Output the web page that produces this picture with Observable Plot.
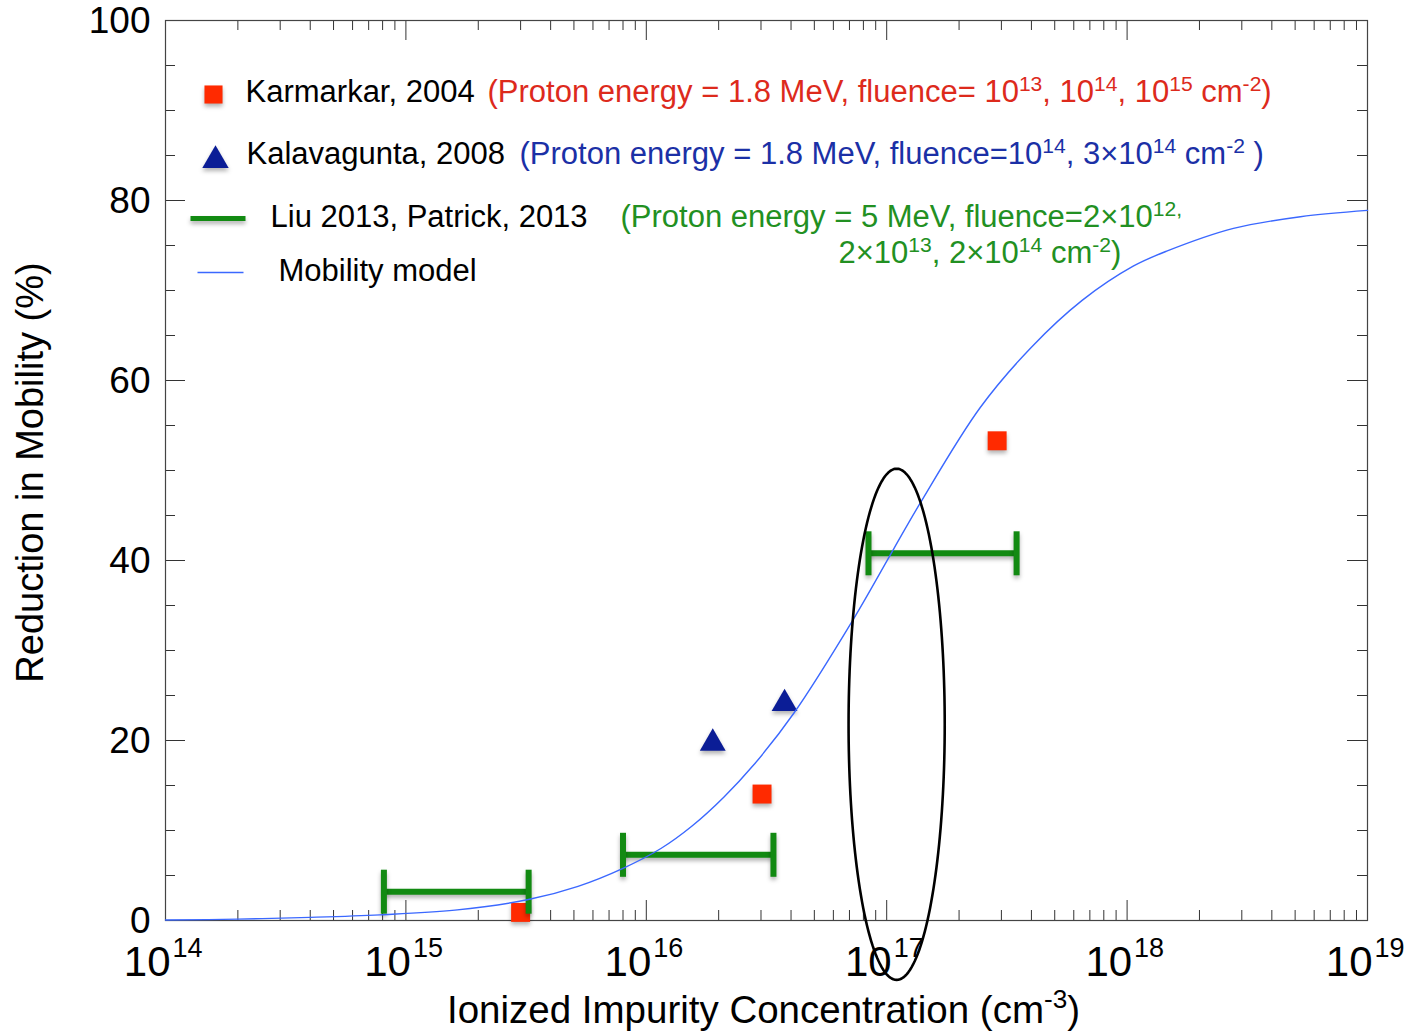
<!DOCTYPE html>
<html><head><meta charset="utf-8">
<script src="https://cdn.jsdelivr.net/npm/d3@7"></script>
<script src="https://cdn.jsdelivr.net/npm/@observablehq/plot@0.6"></script>
<style>
body{margin:0;background:#fff;}
g[aria-description="shadow"] > * {filter: drop-shadow(0px 3px 2px rgba(0,0,0,0.3));}
</style></head><body><div id="chart"></div><script>
// ---- Data ----
// Mobility model curve (concentration cm^-3, reduction %)
const modelConc = [1e14, 2e14, 4e14, 7.8e14, 1.6e15, 3.2e15, 5.2e15, 8e15, 1.15e16, 1.55e16, 2.1e16, 2.8e16, 4.1e16, 7.2e16, 1.07e17, 1.38e17, 2.45e17, 4e17, 6.5e17, 1.06e18, 1.47e18, 2.77e18, 5.26e18, 1e19];
const modelRed  = [0.05, 0.15, 0.35, 0.63, 1.15, 2.3, 3.8, 5.8, 8.0, 10.5, 13.7, 17.3, 23.0, 33.3, 41.3, 46.4, 57.0, 63.7, 68.9, 72.7, 74.4, 76.9, 78.2, 78.9];
// Karmarkar, 2004
const karmConc = [3.0e15, 3.03e16, 2.88e17];
const karmRed  = [0.9, 14.05, 53.3];
// Kalavagunta, 2008
const kalaConc = [1.89e16, 3.76e16];
const kalaRed  = [19.7, 24.1];
// Liu 2013, Patrick 2013 (concentration ranges)
const liuLow  = [8.1e14, 8.0e15, 8.4e16];
const liuHigh = [3.24e15, 3.38e16, 3.47e17];
const liuRed  = [3.2, 7.3, 40.8];
// Highlight ellipse (centre concentration, centre %, half-width in decades, half-height in %)
const ellipseSpec = {conc: 1.1e17, red: 21.8, halfDecades: 0.2, halfRed: 28.4};
// Ticks
const xTickExp = [14, 15, 16, 17, 18, 19];
const xMinorMult = [2, 3, 4, 5, 6, 7, 8, 9];
const yTickLabels = [0, 20, 40, 60, 80, 100];
const yMinorStep = 5;

// ---- Build tables ----
const model = modelConc.map((c, i) => ({c, r: modelRed[i]}));
const karm = karmConc.map((c, i) => ({c, r: karmRed[i]}));
const kala = kalaConc.map((c, i) => ({c, r: kalaRed[i]}));
const liu = liuLow.map((lo, i) => ({lo, hi: liuHigh[i], r: liuRed[i]}));
const xMajor = xTickExp.map(e => Math.pow(10, e));
const xMinor = xTickExp.slice(0, -1).flatMap(e => xMinorMult.map(m => m * Math.pow(10, e)));
const yAll = d3.range(0, 100 + yMinorStep, yMinorStep);
const yMinor = yAll.filter(v => !yTickLabels.includes(v));
const ellipse = d3.range(0, 361, 2).map(t => {
  const a = t * Math.PI / 180;
  return {c: ellipseSpec.conc * Math.pow(10, ellipseSpec.halfDecades * Math.cos(a)), r: ellipseSpec.red + ellipseSpec.halfRed * Math.sin(a)};
});

const vline = {draw(ctx, size) { const h = Math.sqrt(size / Math.PI); ctx.moveTo(0, -h); ctx.lineTo(0, h); }};
const hline = {draw(ctx, size) { const h = Math.sqrt(size / Math.PI); ctx.moveTo(-h, 0); ctx.lineTo(h, 0); }};

const W = 1404, H = 1032, ML = 165, MR = 37, MT = 20, MB = 112;
const FW = W - ML - MR, FH = H - MT - MB;
const RED = "#ff2a00", RED_T = "#dd2a1c", NAVY = "#0b1d96", BLUE_T = "#1b30a6", GREEN = "#128a12", GREEN_T = "#229022", CURVE = "#3b68ff";
const tickCol = "#333";
const LF = 31;
const leg = (txt, dx, dy, fill, rich) => Plot.text([txt], {frameAnchor: "top-left", text: d => d, textAnchor: "start", lineAnchor: "middle", dx, dy, fontSize: LF, fill: fill || "#000", ariaDescription: rich ? "rich" : undefined});

const chart = Plot.plot({
  width: W, height: H,
  marginLeft: ML, marginRight: MR, marginTop: MT, marginBottom: MB,
  x: {type: "log", domain: [1e14, 1e19], axis: null},
  y: {domain: [0, 100], axis: null},
  style: {fontFamily: "'Liberation Sans', Arial, sans-serif", background: "#fff", overflow: "visible"},
  marks: [
    // ticks (inward on all four sides)
    Plot.tickX(xMajor, {x: d => d, insetTop: FH - 20, stroke: tickCol}),
    Plot.tickX(xMinor, {x: d => d, insetTop: FH - 10, stroke: tickCol}),
    Plot.tickX(xMajor, {x: d => d, insetBottom: FH - 20, stroke: tickCol}),
    Plot.tickX(xMinor, {x: d => d, insetBottom: FH - 10, stroke: tickCol}),
    Plot.tickY(yTickLabels, {y: d => d, insetRight: FW - 20, stroke: tickCol}),
    Plot.tickY(yMinor, {y: d => d, insetRight: FW - 10, stroke: tickCol}),
    Plot.tickY(yTickLabels, {y: d => d, insetLeft: FW - 20, stroke: tickCol}),
    Plot.tickY(yMinor, {y: d => d, insetLeft: FW - 10, stroke: tickCol}),
    Plot.frame({stroke: "#444", strokeWidth: 1.2}),
    // tick labels
    Plot.text(yTickLabels, {y: d => d, frameAnchor: "left", text: d => String(d), textAnchor: "end", lineAnchor: "middle", dx: -15, dy: 1, fontSize: 37}),
    Plot.text(xMajor, {x: d => d, frameAnchor: "bottom", text: () => "10", textAnchor: "end", lineAnchor: "middle", dx: 5, dy: 42, fontSize: 42}),
    Plot.text(xTickExp, {x: d => Math.pow(10, d), frameAnchor: "bottom", text: d => String(d), textAnchor: "start", lineAnchor: "middle", dx: 7, dy: 28, fontSize: 27}),
    // axis titles
    Plot.text(["Ionized Impurity Concentration (cm^{-3})"], {frameAnchor: "bottom", text: d => d, textAnchor: "middle", lineAnchor: "middle", dx: -3, dy: 90, fontSize: 38.5, ariaDescription: "rich"}),
    Plot.text(["Reduction in Mobility (%)"], {frameAnchor: "left", text: d => d, textAnchor: "middle", lineAnchor: "middle", rotate: -90, dx: -135, dy: 2, fontSize: 38}),
    // data
    Plot.dot(karm, {x: "c", y: "r", symbol: "square", r: 10.7, fill: RED, ariaDescription: "shadow"}),
    Plot.ruleY(liu, {x1: "lo", x2: "hi", y: "r", stroke: GREEN, strokeWidth: 6, ariaDescription: "shadow"}),
    Plot.dot(liu, {x: "lo", y: "r", symbol: vline, r: 22, stroke: GREEN, strokeWidth: 6, ariaDescription: "shadow"}),
    Plot.dot(liu, {x: "hi", y: "r", symbol: vline, r: 22, stroke: GREEN, strokeWidth: 6, ariaDescription: "shadow"}),
    Plot.dot(kala, {x: "c", y: "r", symbol: "triangle", r: 9.6, fill: NAVY, ariaDescription: "shadow"}),
    Plot.line(model, {x: "c", y: "r", stroke: CURVE, strokeWidth: 1.4, curve: "catmull-rom"}),
    Plot.line(ellipse, {x: "c", y: "r", stroke: "#000", strokeWidth: 2.6, curve: "linear"}),
    // legend
    Plot.dot([0], {frameAnchor: "top-left", dx: 48, dy: 74, symbol: "square", r: 10.2, fill: RED, ariaDescription: "shadow"}),
    Plot.dot([0], {frameAnchor: "top-left", dx: 50, dy: 140, symbol: "triangle", r: 9.8, fill: NAVY, ariaDescription: "shadow"}),
    Plot.dot([0], {frameAnchor: "top-left", dx: 52.5, dy: 198, symbol: hline, r: 27.5, stroke: GREEN, strokeWidth: 5, ariaDescription: "shadow"}),
    Plot.dot([0], {frameAnchor: "top-left", dx: 55, dy: 252, symbol: hline, r: 23, stroke: CURVE, strokeWidth: 1.4}),
    leg("Karmarkar, 2004", 80, 72),
    leg("(Proton energy = 1.8 MeV, fluence= 10^{13}, 10^{14}, 10^{15} cm^{-2})", 322, 72, RED_T, true),
    leg("Kalavagunta, 2008", 81, 134),
    leg("(Proton energy = 1.8 MeV, fluence=10^{14}, 3×10^{14} cm^{-2} )", 354, 134, BLUE_T, true),
    leg("Liu 2013, Patrick, 2013", 105, 197),
    leg("(Proton energy = 5 MeV, fluence=2×10^{12,}", 455, 197, GREEN_T, true),
    leg("2×10^{13}, 2×10^{14} cm^{-2})", 673, 233, GREEN_T, true),
    leg("Mobility model", 113, 251)
  ]
});
document.getElementById("chart").appendChild(chart);

// superscripts: turn ^{...} into raised tspans
d3.select(chart).selectAll('g[aria-description="rich"] text').each(function() {
  const el = d3.select(this);
  const s = el.text();
  const fs = parseFloat(getComputedStyle(this).fontSize) || 28;
  el.text(null);
  const parts = s.split(/(\^\{[^}]*\})/);
  let raised = false;
  for (const p of parts) {
    if (!p) continue;
    if (p.startsWith("^{")) {
      el.append("tspan").attr("font-size", fs * 0.68).attr("dy", raised ? 0 : -fs * 0.38).text(p.slice(2, -1));
      raised = true;
    } else {
      el.append("tspan").attr("dy", raised ? fs * 0.38 : 0).text(p);
      raised = false;
    }
  }
});
</script></body></html>
